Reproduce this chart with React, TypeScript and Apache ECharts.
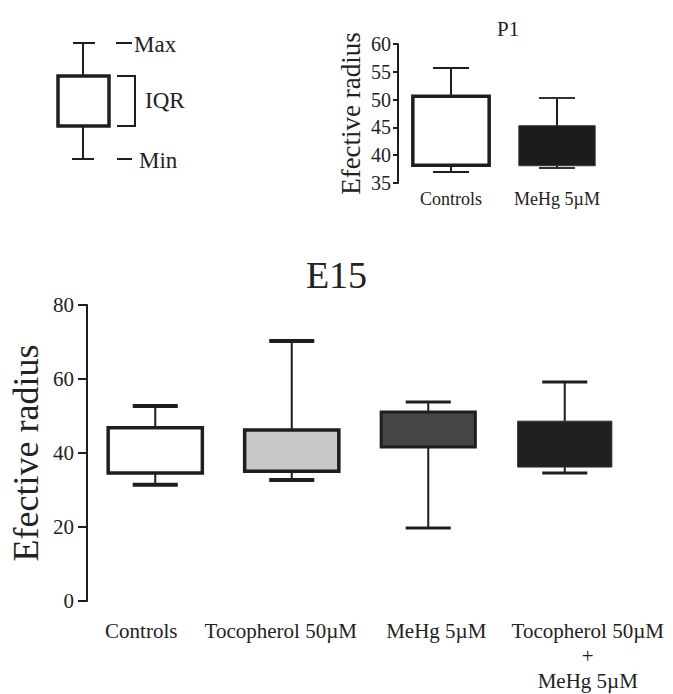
import React, { useEffect, useRef } from "react";
import * as echarts from "echarts";

// ---- Data: E15 ----
const mainCategories = ["Controls", "Tocopherol 50µM", "MeHg 5µM", "Tocopherol 50µM\n+\nMeHg 5µM"];
const mainMin = [31.4, 32.7, 19.7, 34.6];
const mainQ1 = [34.6, 35.1, 41.6, 36.2];
const mainQ3 = [46.8, 46.2, 51.1, 48.6];
const mainMax = [52.7, 70.3, 53.8, 59.2];
const mainTicks = { min: 0, max: 80, interval: 20 };

// ---- Data: P1 ----
const p1Categories = ["Controls", "MeHg 5µM"];
const p1Min = [37.0, 37.7];
const p1Q1 = [38.2, 38.1];
const p1Q3 = [50.6, 45.3];
const p1Max = [55.7, 50.3];
const p1Ticks = { min: 35, max: 60, interval: 5 };

const FONT = '"Liberation Serif", "Times New Roman", serif';
const INK = "#1e1e1e";

type BoxStyle = { fill: string; stroke: string; lw: number; stemW: number; capW: number; capColor: string; stemColor: string };

const mainStyles: BoxStyle[] = [
  { fill: "#ffffff", stroke: INK, lw: 3.5, stemW: 2, capW: 4, capColor: INK, stemColor: INK },
  { fill: "#c8c8c8", stroke: INK, lw: 3.5, stemW: 2, capW: 4, capColor: INK, stemColor: INK },
  { fill: "#454545", stroke: INK, lw: 3, stemW: 2, capW: 3, capColor: INK, stemColor: INK },
  { fill: "#202020", stroke: "#2c2c2c", lw: 1, stemW: 2, capW: 3, capColor: INK, stemColor: INK },
];
const p1Styles: BoxStyle[] = [
  { fill: "#ffffff", stroke: INK, lw: 3.5, stemW: 2, capW: 2, capColor: INK, stemColor: INK },
  { fill: "#1c1c1c", stroke: "#333333", lw: 1, stemW: 2, capW: 2, capColor: "#333333", stemColor: INK },
];

function makeRenderItem(boxRatio: number, capRatio: number, styles: BoxStyle[]) {
  return (params: any, api: any) => {
    const idx = api.value(0);
    const minP = api.coord([idx, api.value(1)]);
    const q1P = api.coord([idx, api.value(2)]);
    const q3P = api.coord([idx, api.value(3)]);
    const maxP = api.coord([idx, api.value(4)]);
    const band = api.size([1, 0])[0];
    const bw = band * boxRatio;
    const cw = band * capRatio;
    const x = q1P[0];
    const st = styles[params.dataIndex];
    return {
      type: "group",
      children: [
        { type: "line", shape: { x1: x, y1: maxP[1], x2: x, y2: q3P[1] }, style: { stroke: st.stemColor, lineWidth: st.stemW } },
        { type: "line", shape: { x1: x, y1: q1P[1], x2: x, y2: minP[1] }, style: { stroke: st.stemColor, lineWidth: st.stemW } },
        { type: "line", shape: { x1: x - cw / 2, y1: maxP[1], x2: x + cw / 2, y2: maxP[1] }, style: { stroke: st.capColor, lineWidth: st.capW } },
        { type: "line", shape: { x1: x - cw / 2, y1: minP[1], x2: x + cw / 2, y2: minP[1] }, style: { stroke: st.capColor, lineWidth: st.capW } },
        {
          type: "rect",
          shape: { x: x - bw / 2, y: q3P[1], width: bw, height: q1P[1] - q3P[1] },
          style: { fill: st.fill, stroke: st.stroke, lineWidth: st.lw },
        },
      ],
    };
  };
}

export default function App() {
  const ref = useRef<HTMLDivElement>(null);
  useEffect(() => {
    document.body.style.margin = "0";
    if (!ref.current) return;
    const chart = echarts.init(ref.current, null, { renderer: "svg" });

    const mainData = mainCategories.map((_, i) => [i, mainMin[i], mainQ1[i], mainQ3[i], mainMax[i]]);
    const p1Data = p1Categories.map((_, i) => [i, p1Min[i], p1Q1[i], p1Q3[i], p1Max[i]]);

    const pads: number[][] = [
      [0, 28, 0, 0],
      [0, 22, 0, 0],
      [0, 0, 0, 16],
      [0, 0, 0, 46],
    ];
    const rich: any = {};
    pads.forEach((p, i) => {
      rich["c" + i] = { padding: p, fontSize: 21, fontFamily: FONT, color: "#222", lineHeight: 25 };
    });

    const legendText = (text: string, x: number, y: number) => ({
      type: "text",
      x,
      y,
      style: { text, font: `23px ${FONT}`, fill: "#222", textAlign: "left", textVerticalAlign: "middle" },
    });
    const ln = (x1: number, y1: number, x2: number, y2: number, w = 2) => ({
      type: "line",
      shape: { x1, y1, x2, y2 },
      style: { stroke: INK, lineWidth: w },
    });

    chart.setOption({
      animation: false,
      backgroundColor: "#ffffff",
      title: [
        { text: "E15", left: "center", top: 251, textStyle: { fontSize: 38, fontFamily: FONT, fontWeight: "normal", color: "#222" } },
        { text: "P1", left: 492, top: 13, textStyle: { fontSize: 21, fontFamily: FONT, fontWeight: "normal", color: "#222" } },
      ],
      grid: [
        { left: 87, top: 305, width: 546, height: 296, outerBoundsMode: "none", containLabel: false },
        { left: 398, top: 44, width: 212, height: 139, outerBoundsMode: "none", containLabel: false },
      ],
      xAxis: [
        {
          type: "category",
          gridIndex: 0,
          data: mainCategories,
          axisLine: { show: false },
          axisTick: { show: false },
          splitLine: { show: false },
          axisLabel: {
            interval: 0,
            margin: 17,
            formatter: (value: string, index: number) =>
              value
                .split("\n")
                .map((l) => `{c${index}|${l}}`)
                .join("\n"),
            rich,
          },
        },
        {
          type: "category",
          gridIndex: 1,
          data: p1Categories,
          axisLine: { show: false },
          axisTick: { show: false },
          splitLine: { show: false },
          axisLabel: { interval: 0, margin: 7, fontSize: 18, fontFamily: FONT, color: "#222" },
        },
      ],
      yAxis: [
        {
          type: "value",
          gridIndex: 0,
          min: mainTicks.min,
          max: mainTicks.max,
          interval: mainTicks.interval,
          axisLine: { show: true, lineStyle: { color: INK, width: 2 } },
          axisTick: { show: true, length: 9, lineStyle: { color: INK, width: 2 } },
          axisLabel: { margin: 13, fontSize: 21, fontFamily: FONT, color: "#222" },
          splitLine: { show: false },
          name: "Efective radius",
          nameLocation: "middle",
          nameGap: 43,
          nameMoveOverlap: false,
          nameTextStyle: { fontSize: 36, fontFamily: FONT, color: "#222" },
        },
        {
          type: "value",
          gridIndex: 1,
          min: p1Ticks.min,
          max: p1Ticks.max,
          interval: p1Ticks.interval,
          axisLine: { show: true, lineStyle: { color: INK, width: 2 } },
          axisTick: { show: true, length: 5, lineStyle: { color: INK, width: 2 } },
          axisLabel: { margin: 7, fontSize: 20, fontFamily: FONT, color: "#222" },
          splitLine: { show: false },
          name: "Efective radius",
          nameLocation: "middle",
          nameGap: 34,
          nameTextStyle: { fontSize: 27, fontFamily: FONT, color: "#222" },
        },
      ],
      series: [
        {
          type: "custom",
          name: "E15",
          xAxisIndex: 0,
          yAxisIndex: 0,
          renderItem: makeRenderItem(0.69, 0.33, mainStyles),
          encode: { x: 0, y: [1, 2, 3, 4] },
          data: mainData,
        },
        {
          type: "custom",
          name: "P1",
          xAxisIndex: 1,
          yAxisIndex: 1,
          renderItem: makeRenderItem(0.72, 0.34, p1Styles),
          encode: { x: 0, y: [1, 2, 3, 4] },
          data: p1Data,
        },
      ],
      graphic: [
        {
          type: "group",
          children: [
            ln(83, 43, 83, 76),
            ln(83, 126, 83, 159),
            ln(73, 43, 95, 43),
            ln(72, 159, 94, 159),
            {
              type: "rect",
              shape: { x: 58, y: 76, width: 51, height: 50 },
              style: { fill: "#ffffff", stroke: INK, lineWidth: 3.5 },
            },
            ln(116, 43, 132, 43),
            ln(117, 159, 132, 159),
            {
              type: "polyline",
              shape: { points: [[117, 76], [135, 76], [135, 126], [117, 126]] },
              style: { stroke: INK, lineWidth: 2, fill: "none" },
            },
            legendText("Max", 134, 44),
            legendText("IQR", 145, 100),
            legendText("Min", 139, 160),
          ],
        },
      ],
    });
    return () => chart.dispose();
  }, []);
  return <div ref={ref} style={{ width: 673, height: 694 }} />;
}
